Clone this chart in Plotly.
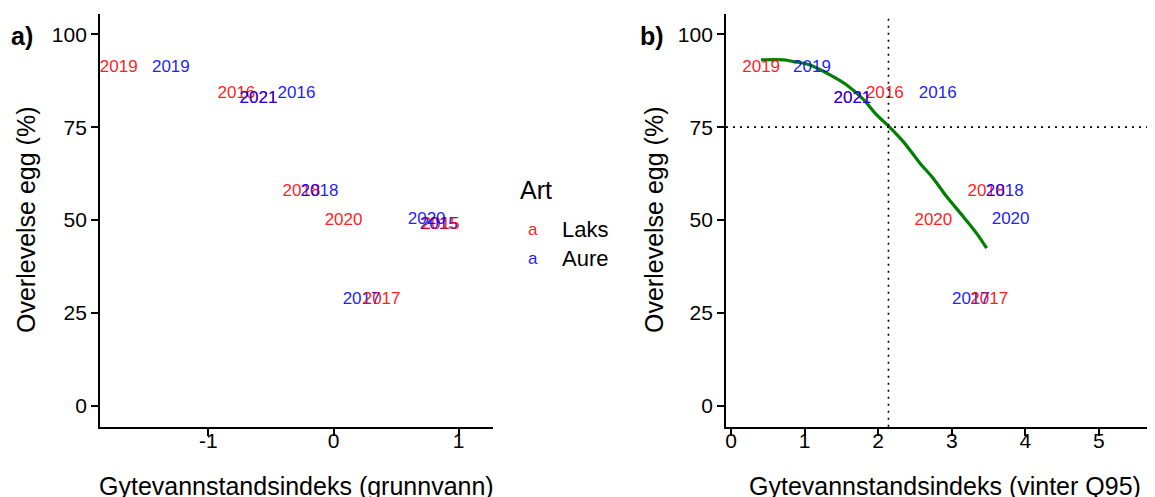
import plotly.graph_objects as go

# ---- data ----
years = ["2015", "2015", "2016", "2016", "2017", "2017", "2018", "2018",
         "2019", "2019", "2020", "2020", "2021", "2021"]
species = ["Aure", "Laks", "Laks", "Aure", "Aure", "Laks", "Laks", "Aure",
           "Laks", "Aure", "Laks", "Aure", "Laks", "Aure"]
x_grunnvann = [0.84, 0.856, -0.776, -0.296, 0.224, 0.384, -0.256, -0.112,
               -1.716, -1.30, 0.08, 0.744, -0.60, -0.60]
x_vinter_q95 = [None, None, 2.09, 2.81, 3.26, 3.51, 3.47, 3.72,
                0.41, 1.10, 2.75, 3.80, 1.65, 1.65]
survival = [48.6, 48.6, 84.0, 84.0, 28.5, 28.5, 57.5, 57.5,
            91.0, 91.0, 49.7, 50.0, 82.6, 82.6]

curve_x = [0.408, 0.72, 0.847, 1.073, 1.345, 1.572, 1.798, 1.979, 2.142,
           2.341, 2.568, 2.749, 2.93, 3.157, 3.338, 3.474]
curve_y = [93.1, 93.1, 92.66, 91.76, 89.07, 86.37, 82.5, 78.3, 75.3,
           71.1, 65.3, 61.2, 56.3, 50.9, 46.4, 42.4]

threshold_x = 2.14
threshold_y = 75

y_ticks = [0, 25, 50, 75, 100]
y_ticktext = ["0", "25", "50", "75", "100"]
xa_ticks = [-1, 0, 1]
xa_ticktext = ["-1", "0", "1"]
xb_ticks = [0, 1, 2, 3, 4, 5]
xb_ticktext = ["0", "1", "2", "3", "4", "5"]

legend_levels = ["Laks", "Aure"]
species_colors = {"Laks": "rgba(255,0,0,0.9)", "Aure": "rgba(0,0,255,0.9)"}

# ---- figure ----
# the page body has an 8px margin, so the figure occupies window pixels 8..1155 / 8..497
OFF = 8
W, H = 1155 - OFF, 497 - OFF
FONT = "Liberation Sans, Arial, Helvetica, sans-serif"


def px(x):
    return (x - OFF) / W


def py(y):
    return 1 - (y - OFF) / H


fig = go.Figure()
colors = [species_colors[s] for s in species]

fig.add_trace(go.Scatter(
    x=x_grunnvann, y=survival, mode="text", text=years,
    textposition="middle center",
    textfont=dict(family=FONT, size=17, color=colors),
    xaxis="x", yaxis="y", showlegend=False, hoverinfo="skip"))

bx, by, bt, bc = [], [], [], []
for xv, yv, t, c in zip(x_vinter_q95, survival, years, colors):
    if xv is not None:
        bx.append(xv); by.append(yv); bt.append(t); bc.append(c)

fig.add_trace(go.Scatter(
    x=curve_x, y=curve_y, mode="lines",
    line=dict(color="#008000", width=3.2, shape="spline"),
    xaxis="x2", yaxis="y2", showlegend=False, hoverinfo="skip"))

fig.add_trace(go.Scatter(
    x=bx, y=by, mode="text", text=bt, textposition="middle center",
    textfont=dict(family=FONT, size=17, color=bc),
    xaxis="x2", yaxis="y2", showlegend=False, hoverinfo="skip"))

axis_common = dict(
    showline=True, linecolor="black", linewidth=1.8,
    ticks="outside", ticklen=7, tickwidth=1.5, tickcolor="black",
    showgrid=False, zeroline=False,
    tickfont=dict(family=FONT, size=21, color="black"),
    fixedrange=True,
)

ydom = [py(426.7), py(14)]
fig.update_layout(
    width=W, height=H, autosize=False,
    margin=dict(l=0, r=0, t=0, b=0),
    paper_bgcolor="white", plot_bgcolor="white",
    font=dict(family=FONT, color="black"),
    xaxis=dict(axis_common, domain=[px(100), px(492.5)], range=[-1.866, 1.27],
               tickvals=xa_ticks, ticktext=xa_ticktext, anchor="y",
               ticklabelstandoff=-13),
    yaxis=dict(axis_common, domain=ydom, range=[-5.66, 105.47],
               tickvals=y_ticks, ticktext=y_ticktext, anchor="x"),
    xaxis2=dict(axis_common, domain=[px(726), px(1153)], range=[-0.068, 5.735],
                tickvals=xb_ticks, ticktext=xb_ticktext, anchor="y2",
                ticklabelstandoff=-13),
    yaxis2=dict(axis_common, domain=ydom, range=[-5.66, 105.47],
                tickvals=y_ticks, ticktext=y_ticktext, anchor="x2"),
    showlegend=False,
)

# threshold lines (panel b)
fig.add_shape(type="line", xref="x2", yref="y2 domain", x0=threshold_x, x1=threshold_x,
              y0=0, y1=1, line=dict(color="black", width=1.6, dash="2px,5px"))
fig.add_shape(type="line", xref="x2 domain", yref="y2", x0=0, x1=1,
              y0=threshold_y, y1=threshold_y, line=dict(color="black", width=1.6, dash="2px,5px"))

ann = []
# axis titles
ann.append(dict(text="Overlevelse egg (%)", x=px(26), y=py(220), xref="paper", yref="paper",
                textangle=-90, showarrow=False, xanchor="center", yanchor="middle",
                font=dict(family=FONT, size=25, color="black")))
ann.append(dict(text="Overlevelse egg (%)", x=px(654), y=py(220), xref="paper", yref="paper",
                textangle=-90, showarrow=False, xanchor="center", yanchor="middle",
                font=dict(family=FONT, size=25, color="black")))
ann.append(dict(text="Gytevannstandsindeks (grunnvann)", x=px(296), y=py(486), xref="paper",
                yref="paper", showarrow=False, xanchor="center", yanchor="middle",
                font=dict(family=FONT, size=25, color="black")))
ann.append(dict(text="Gytevannstandsindeks (vinter Q95)", x=px(945), y=py(486), xref="paper",
                yref="paper", showarrow=False, xanchor="center", yanchor="middle",
                font=dict(family=FONT, size=25, color="black")))
# panel tags
ann.append(dict(text="<b>a)</b>", x=px(9), y=py(36), xref="paper", yref="paper",
                showarrow=False, xanchor="left", yanchor="middle",
                font=dict(family=FONT, size=25, color="black")))
ann.append(dict(text="<b>b)</b>", x=px(638), y=py(36), xref="paper", yref="paper",
                showarrow=False, xanchor="left", yanchor="middle",
                font=dict(family=FONT, size=25, color="black")))
# legend
ann.append(dict(text="Art", x=px(518), y=py(190), xref="paper", yref="paper",
                showarrow=False, xanchor="left", yanchor="middle",
                font=dict(family=FONT, size=25, color="black")))
for i, lev in enumerate(legend_levels):
    yy = 229 + 29 * i
    ann.append(dict(text="a", x=px(533), y=py(yy), xref="paper", yref="paper",
                    showarrow=False, xanchor="center", yanchor="middle",
                    font=dict(family=FONT, size=17, color=species_colors[lev])))
    ann.append(dict(text=lev, x=px(560), y=py(yy), xref="paper", yref="paper",
                    showarrow=False, xanchor="left", yanchor="middle",
                    font=dict(family=FONT, size=22, color="black")))
fig.update_layout(annotations=ann)

fig.write_html("out.html")
